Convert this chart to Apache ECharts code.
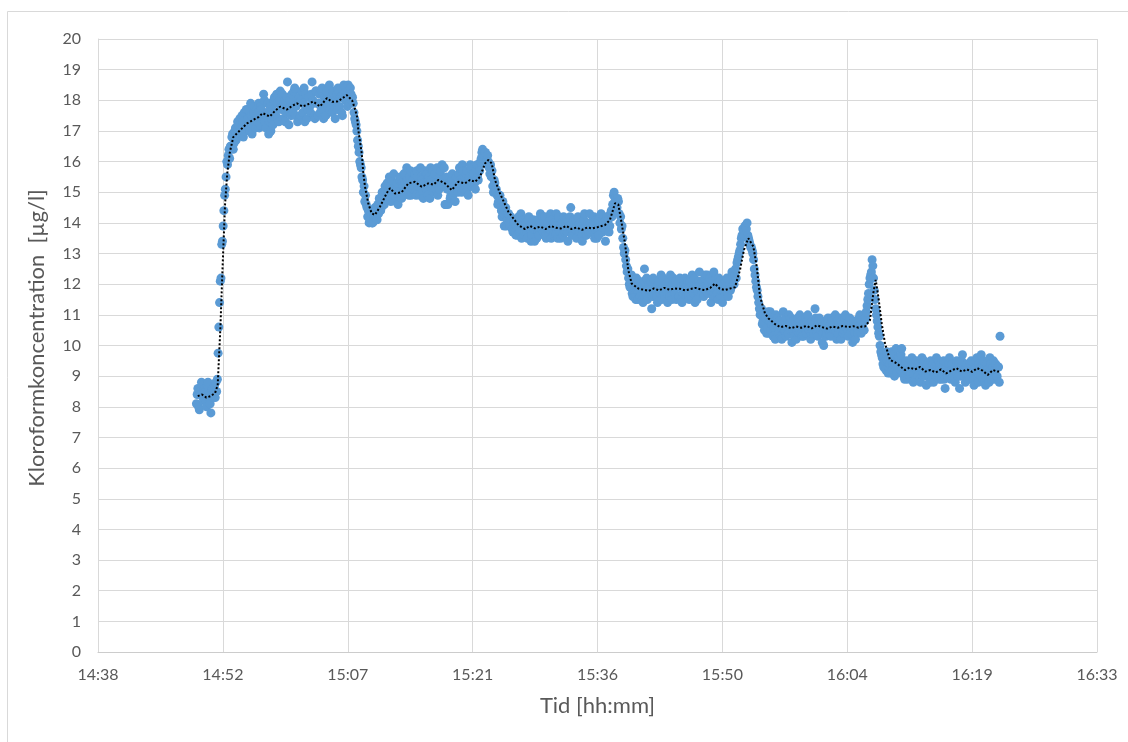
<!DOCTYPE html>
<html>
<head>
<meta charset="utf-8">
<script src="https://cdn.jsdelivr.net/npm/echarts@6/dist/echarts.min.js"></script>
<style>
html,body{margin:0;padding:0;background:#fff;}
#chart{width:1128px;height:742px;}
</style>
</head>
<body>
<div id="chart"></div>
<script>
// ---- axis setup (time in minutes after midnight; 14:38.4 .. 16:33.6, step 0.01 day) ----
const xMin = 878.4, xMax = 993.6, xStep = 14.4;
const xTickLabels = ['14:38','14:52','15:07','15:21','15:36','15:50','16:04','16:19','16:33'];
const yMin = 0, yMax = 20, yStep = 1;
const xAxisTitle = 'Tid [hh:mm]';
const yAxisTitle = 'Kloroformkoncentration  [µg/l]';

// ---- measurements: one reading every 5 s, starting 14:49:45 (889.75 min); one row = 1 minute ----
const sampleStartMin = 889.75;
const sampleStepMin = 5 / 60;
const concentration = [
  8.1, 8.4, 8.6, 8.0, 7.9, 8.5, 8.4, 8.8, 8.7, 8.3, 8.2, 8.6,
  8.5, 8.2, 8.0, 8.7, 8.8, 8.4, 8.3, 8.1, 7.8, 8.5, 8.6, 8.3,
  8.4, 8.7, 8.3, 8.8, 8.5, 8.9, 9.75, 10.6, 11.4, 12.1, 12.2, 13.3,
  13.4, 13.9, 14.4, 14.9, 15.1, 15.5, 16.0, 15.9, 16.2, 16.4, 16.1, 16.5,
  16.5, 16.8, 16.9, 16.4, 16.6, 17.0, 17.1, 16.7, 16.8, 17.3, 17.2, 16.9,
  17.4, 17.0, 16.9, 17.5, 17.3, 16.8, 17.6, 17.2, 17.0, 17.7, 17.2, 17.4,
  17.7, 17.3, 17.0, 17.9, 17.5, 16.9, 17.2, 17.6, 17.8, 17.4, 17.1, 17.7,
  17.3, 17.6, 17.9, 17.1, 17.2, 17.8, 17.7, 17.5, 17.4, 18.2, 18.0, 17.3,
  17.1, 17.5, 17.6, 17.9, 16.9, 17.3, 17.8, 17.0, 17.4, 17.7, 17.2, 18.0,
  18.1, 17.6, 17.5, 18.2, 17.9, 17.4, 17.3, 18.0, 18.3, 17.8, 17.7, 18.2,
  17.4, 17.9, 18.0, 17.3, 17.6, 18.1, 18.6, 17.7, 17.2, 18.0, 17.8, 17.5,
  18.2, 17.7, 17.6, 18.3, 18.4, 17.5, 17.8, 18.0, 17.3, 17.9, 18.1, 17.4,
  17.5, 18.0, 18.3, 17.6, 17.9, 18.4, 17.3, 17.8, 18.2, 17.4, 17.7, 18.1,
  18.1, 17.8, 17.6, 18.2, 18.6, 18.0, 17.9, 17.5, 17.4, 18.3, 18.3, 17.9,
  17.5, 17.9, 18.2, 17.6, 17.8, 18.3, 18.4, 17.7, 17.4, 18.1, 18.0, 17.5,
  18.3, 17.9, 17.8, 18.4, 18.5, 17.7, 18.0, 18.1, 17.6, 18.3, 18.2, 17.8,
  17.4, 18.0, 18.2, 17.7, 18.4, 18.3, 17.8, 18.1, 18.1, 17.6, 17.5, 18.2,
  18.5, 18.1, 18.0, 18.4, 18.3, 17.8, 18.5, 18.2, 17.9, 18.4, 18.2, 18.0,
  18.1, 17.9, 17.6, 17.4, 17.3, 17.2, 17.0, 16.7, 16.5, 16.3, 16.0, 15.9,
  15.8, 15.5, 15.4, 15.0, 15.2, 14.7, 14.9, 14.6, 14.5, 14.2, 14.4, 14.0,
  14.1, 14.4, 14.3, 14.0, 14.0, 14.3, 14.2, 14.5, 14.4, 14.2, 14.1, 14.6,
  14.3, 14.8, 14.7, 14.4, 14.5, 15.0, 14.9, 14.6, 14.6, 15.2, 15.0, 14.8,
  15.3, 15.0, 14.8, 15.5, 15.2, 14.7, 15.4, 15.1, 14.9, 15.6, 15.1, 14.9,
  14.7, 15.1, 15.3, 14.6, 15.0, 15.4, 15.5, 14.9, 14.8, 15.3, 15.2, 15.6,
  15.6, 15.3, 15.0, 15.8, 15.4, 15.1, 14.9, 15.5, 15.7, 14.9, 15.2, 15.4,
  15.1, 15.4, 15.6, 15.0, 14.9, 15.7, 15.5, 15.2, 15.3, 14.9, 15.8, 15.5,
  15.4, 15.0, 14.8, 15.3, 15.7, 15.2, 15.1, 15.6, 14.9, 15.4, 15.5, 14.8,
  15.8, 15.4, 15.2, 15.7, 15.0, 15.5, 15.6, 15.1, 15.3, 15.8, 14.9, 15.3,
  15.1, 15.5, 15.7, 15.3, 15.9, 15.4, 15.2, 15.8, 14.6, 14.6, 15.5, 15.1,
  14.6, 15.1, 15.3, 14.8, 14.9, 15.4, 15.6, 14.9, 15.0, 15.2, 14.7, 15.5,
  15.5, 15.2, 15.0, 15.6, 15.8, 15.4, 15.3, 15.0, 15.9, 15.7, 15.1, 15.5,
  15.2, 15.6, 15.7, 15.1, 14.9, 15.4, 15.5, 15.9, 15.8, 15.2, 15.3, 15.6,
  15.6, 15.3, 15.1, 15.7, 15.9, 15.5, 15.4, 15.9, 15.7, 16.0, 16.1, 16.3,
  16.4, 16.1, 16.2, 16.3, 16.3, 16.0, 15.9, 16.2, 16.0, 15.8, 15.6, 15.9,
  15.5, 15.7, 15.2, 15.0, 15.4, 15.3, 15.0, 15.1, 14.9, 14.6, 14.7, 14.9,
  14.9, 14.6, 14.4, 14.2, 14.7, 14.3, 13.9, 14.4, 14.5, 13.9, 14.1, 14.3,
  14.3, 14.0, 13.9, 14.2, 14.1, 13.8, 13.7, 14.1, 14.0, 13.7, 13.6, 13.9,
  13.6, 14.0, 14.2, 13.7, 13.8, 14.3, 13.5, 13.9, 14.1, 13.6, 13.7, 14.1,
  14.0, 13.7, 13.5, 14.1, 14.2, 13.9, 13.8, 13.4, 13.6, 14.0, 14.1, 13.8,
  13.4, 13.8, 13.9, 13.5, 14.1, 13.7, 13.6, 14.0, 14.3, 13.9, 13.8, 14.2,
  13.7, 14.0, 14.2, 13.6, 13.5, 13.9, 14.0, 13.7, 13.8, 14.1, 14.3, 13.5,
  14.1, 13.8, 13.6, 14.0, 13.9, 13.6, 14.3, 13.9, 13.5, 14.2, 13.8, 13.7,
  13.5, 13.9, 14.0, 13.6, 14.2, 13.8, 13.7, 14.0, 14.1, 13.7, 13.4, 13.9,
  13.9, 14.2, 14.5, 13.8, 13.6, 14.0, 14.1, 13.7, 13.8, 14.1, 13.5, 13.9,
  14.2, 13.9, 13.7, 14.0, 13.9, 13.6, 13.4, 13.8, 14.1, 14.3, 13.8, 13.6,
  13.6, 13.9, 14.0, 13.7, 14.3, 14.0, 13.7, 13.8, 13.9, 14.1, 14.2, 13.5,
  13.8, 14.1, 13.5, 13.8, 14.1, 13.6, 13.9, 14.2, 14.3, 13.9, 13.7, 14.0,
  14.0, 13.8, 13.4, 14.1, 14.2, 13.9, 14.1, 13.7, 13.9, 14.3, 14.4, 14.2,
  14.6, 14.9, 15.0, 14.7, 14.8, 14.4, 14.5, 14.8, 14.7, 14.3, 14.0, 14.2,
  13.8, 13.9, 13.5, 13.2, 13.0, 13.1, 12.8, 12.6, 12.4, 12.5, 12.2, 12.0,
  11.9, 12.1, 12.3, 11.7, 11.6, 11.9, 12.0, 11.6, 11.5, 12.2, 11.8, 11.5,
  12.1, 11.8, 11.6, 12.0, 11.9, 11.5, 11.4, 12.1, 12.5, 11.9, 11.7, 12.2,
  11.5, 11.9, 12.0, 11.7, 11.8, 12.1, 11.2, 11.6, 12.2, 11.8, 11.6, 12.0,
  11.9, 11.6, 11.4, 12.0, 12.1, 11.8, 11.7, 12.3, 11.5, 11.9, 12.2, 11.7,
  11.6, 11.9, 12.0, 11.7, 11.4, 12.1, 11.8, 11.6, 12.3, 11.9, 11.5, 12.0,
  12.2, 11.8, 11.7, 12.1, 11.5, 11.9, 12.0, 11.6, 11.6, 12.2, 11.9, 11.5,
  11.4, 11.7, 11.8, 12.0, 12.2, 11.9, 11.6, 11.8, 12.1, 11.6, 11.5, 12.1,
  11.9, 11.6, 12.3, 12.0, 11.7, 12.2, 11.4, 11.8, 12.0, 11.5, 11.8, 12.1,
  12.4, 12.0, 11.8, 11.7, 12.1, 11.9, 11.6, 12.2, 12.3, 11.8, 11.9, 12.3,
  11.7, 12.0, 12.2, 11.8, 11.4, 12.1, 11.9, 11.6, 12.4, 11.9, 11.6, 12.2,
  11.9, 11.7, 11.5, 12.2, 12.1, 11.6, 11.8, 12.0, 11.4, 11.8, 12.0, 11.6,
  11.8, 12.1, 12.2, 11.7, 11.6, 12.2, 12.0, 11.8, 11.9, 12.4, 12.3, 12.0,
  12.0, 12.3, 12.5, 12.2, 12.7, 12.8, 12.9, 13.0, 13.1, 13.3, 13.5, 13.6,
  13.8, 13.7, 13.6, 13.9, 13.9, 13.8, 14.0, 13.6, 13.5, 13.4, 13.3, 13.2,
  13.2, 13.1, 13.0, 12.8, 12.5, 12.3, 12.1, 11.9, 11.8, 11.6, 11.4, 11.2,
  11.0, 11.1, 11.2, 10.7, 10.8, 11.0, 10.5, 10.9, 10.9, 10.4, 10.6, 11.1,
  10.4, 10.8, 11.1, 10.5, 10.7, 10.9, 10.3, 10.6, 10.8, 10.2, 11.0, 10.7,
  10.9, 10.6, 10.4, 10.8, 10.6, 10.3, 10.2, 10.7, 11.1, 10.5, 10.5, 10.9,
  10.3, 10.6, 10.7, 10.4, 11.0, 10.7, 10.5, 10.9, 10.1, 10.5, 10.8, 10.3,
  10.6, 10.8, 10.2, 10.5, 10.9, 10.6, 10.4, 11.0, 10.8, 10.4, 10.3, 10.7,
  10.3, 10.6, 10.7, 10.9, 10.4, 10.8, 11.0, 10.5, 10.5, 10.7, 10.2, 10.4,
  10.8, 10.5, 10.4, 10.7, 11.2, 10.9, 10.6, 10.4, 10.3, 10.8, 10.9, 10.6,
  10.5, 10.8, 10.1, 10.4, 10.0, 10.6, 10.7, 10.3, 10.4, 10.7, 10.9, 10.5,
  10.6, 10.4, 10.3, 10.9, 10.8, 10.6, 10.5, 10.7, 11.0, 10.5, 10.2, 10.8,
  10.4, 10.7, 10.9, 10.5, 10.2, 10.8, 10.7, 10.4, 10.5, 10.9, 11.0, 10.6,
  10.7, 10.5, 10.3, 10.8, 10.9, 10.4, 10.6, 10.7, 10.1, 10.6, 10.8, 10.4,
  10.2, 10.6, 10.8, 10.4, 10.5, 10.9, 11.0, 10.7, 10.4, 10.8, 10.6, 10.5,
  10.5, 10.8, 10.9, 11.1, 11.3, 11.5, 11.7, 12.0, 12.2, 12.3, 12.4, 12.8,
  12.6, 12.2, 11.8, 11.5, 11.2, 11.0, 10.8, 10.6, 10.4, 10.3, 10.0, 9.8,
  9.7, 9.6, 9.4, 9.3, 9.6, 9.5, 9.2, 9.8, 9.5, 9.1, 9.3, 9.4,
  9.1, 9.5, 9.8, 9.2, 9.4, 9.7, 9.0, 9.4, 9.9, 9.1, 9.3, 9.6,
  9.6, 9.3, 9.2, 9.7, 9.9, 9.1, 9.4, 9.0, 8.9, 9.4, 9.5, 9.2,
  8.9, 9.2, 9.4, 9.0, 9.1, 9.5, 9.6, 9.1, 8.8, 9.4, 9.3, 8.9,
  9.5, 9.2, 9.0, 9.4, 9.3, 8.9, 8.8, 9.3, 9.6, 9.0, 9.1, 9.5,
  9.2, 9.0, 8.7, 9.3, 9.4, 9.1, 9.0, 8.8, 9.5, 9.2, 8.9, 9.4,
  8.8, 9.1, 9.3, 9.0, 9.6, 9.2, 9.1, 9.5, 8.9, 9.3, 9.4, 8.9,
  9.1, 9.3, 9.5, 8.9, 8.6, 9.2, 9.3, 9.0, 9.0, 9.4, 9.6, 9.1,
  8.9, 9.2, 9.4, 9.0, 9.2, 8.9, 8.8, 9.3, 9.5, 9.1, 9.0, 9.4,
  8.6, 9.0, 9.3, 9.5, 9.7, 9.2, 9.0, 9.1, 8.8, 9.3, 9.4, 8.9,
  9.2, 9.0, 8.9, 9.4, 9.5, 9.1, 9.1, 8.9, 8.7, 9.2, 9.3, 9.5,
  9.6, 9.1, 8.8, 9.4, 9.3, 9.0, 9.7, 9.3, 8.9, 9.5, 9.2, 8.8,
  8.7, 9.0, 9.4, 9.2, 9.1, 8.8, 9.6, 9.4, 8.9, 9.1, 9.3, 9.5,
  8.9, 9.2, 9.4, 9.0, 9.0, 9.3, 9.3, 8.8, 10.3
];

// ---- moving-average trendline: [minutes, value] ----
const trendPoints = [
  [889.9, 8.35], [890.4, 8.4], [890.9, 8.3], [891.4, 8.35], [891.9, 8.45], [892.2, 8.7],
  [892.5, 10.5], [892.8, 12.8], [893.05, 14.6], [893.3, 15.6], [893.6, 16.3], [894.0, 16.8],
  [894.7, 17.0], [895.6, 17.25], [896.3, 17.36], [896.9, 17.45], [897.4, 17.58], [898.2, 17.47],
  [898.8, 17.65], [899.4, 17.79], [900.2, 17.7], [900.8, 17.82], [901.35, 17.9], [902.0, 17.8],
  [902.5, 17.85], [903.2, 17.96], [904.0, 17.8], [904.8, 18.07], [905.4, 17.95], [906.0, 17.96],
  [906.5, 18.05], [907.1, 18.17], [907.7, 18.0], [908.0, 17.75], [908.27, 17.47], [908.42, 17.03],
  [908.81, 16.27], [909.0, 15.62], [909.19, 15.18], [909.57, 14.63], [909.96, 14.31], [910.34, 14.26],
  [910.92, 14.53], [911.69, 14.97], [912.07, 15.13], [912.65, 14.96], [913.42, 15.0], [914.18, 15.29],
  [914.95, 15.34], [915.73, 15.18], [916.49, 15.29], [917.1, 15.25], [917.64, 15.4], [918.41, 15.29],
  [919.19, 15.07], [919.95, 15.34], [920.72, 15.29], [921.3, 15.4], [921.87, 15.34], [922.45, 15.5],
  [923.03, 15.94], [923.41, 16.05], [923.8, 15.94], [924.18, 15.4], [924.76, 14.96], [925.71, 14.37],
  [926.87, 13.93], [927.64, 13.8], [928.2, 13.9], [928.79, 13.82], [929.4, 13.88], [930.0, 13.8],
  [930.6, 13.9], [931.2, 13.84], [931.8, 13.82], [932.4, 13.9], [933.0, 13.8], [933.6, 13.85],
  [934.2, 13.77], [934.8, 13.85], [935.4, 13.82], [936.0, 13.86], [936.86, 13.93], [937.44, 14.1],
  [938.02, 14.64], [938.4, 14.6], [938.79, 13.98], [939.17, 13.33], [939.55, 12.46], [939.94, 12.02],
  [940.7, 11.86], [941.3, 11.82], [941.9, 11.78], [942.5, 11.86], [943.1, 11.8], [943.7, 11.88],
  [944.3, 11.82], [944.9, 11.86], [945.5, 11.85], [946.1, 11.8], [946.7, 11.84], [947.3, 11.88],
  [947.9, 11.83], [948.4, 11.81], [949.0, 11.88], [949.55, 12.02], [950.1, 11.85], [950.7, 11.81],
  [951.3, 11.86], [951.85, 11.9], [952.43, 12.46], [952.89, 13.12], [953.39, 13.5], [953.97, 13.23],
  [954.36, 12.58], [954.74, 11.6], [955.31, 11.05], [955.69, 10.89], [956.47, 10.7], [957.1, 10.6],
  [957.7, 10.64], [958.3, 10.56], [958.9, 10.62], [959.5, 10.58], [960.1, 10.64], [960.7, 10.56],
  [961.3, 10.66], [961.9, 10.6], [962.5, 10.55], [963.1, 10.62], [963.7, 10.58], [964.3, 10.64],
  [964.9, 10.6], [965.5, 10.63], [966.1, 10.58], [966.5, 10.62], [966.85, 10.62], [967.42, 10.83],
  [967.8, 11.7], [968.08, 12.14], [968.38, 11.6], [968.77, 10.73], [969.15, 10.07], [969.73, 9.53],
  [970.5, 9.42], [971.0, 9.3], [971.46, 9.2], [972.0, 9.28], [972.6, 9.22], [973.2, 9.3],
  [973.8, 9.15], [974.4, 9.2], [975.0, 9.12], [975.6, 9.22], [976.2, 9.09], [976.8, 9.18],
  [977.4, 9.26], [978.0, 9.15], [978.6, 9.22], [979.2, 9.14], [979.8, 9.26], [980.4, 9.18],
  [981.0, 9.04], [981.6, 9.2], [982.1, 9.15], [982.4, 9.15]
];

const scatterData = concentration.map((v, i) => [sampleStartMin + i * sampleStepMin, v]);

const labelFont = 'Lato, "Open Sans", sans-serif';
const grey = '#595959';
const gridGrey = '#d9d9d9';

const chart = echarts.init(document.getElementById('chart'), null, {renderer: 'canvas'});
chart.setOption({
  animation: false,
  backgroundColor: '#ffffff',
  grid: {left: 98, right: 31, top: 39, bottom: 90, containLabel: false},
  xAxis: {
    type: 'value', min: xMin, max: xMax, interval: xStep,
    name: xAxisTitle, nameLocation: 'middle', nameGap: 43,
    nameTextStyle: {color: grey, fontSize: 22, fontFamily: labelFont},
    axisLine: {show: true, lineStyle: {color: '#cccccc', width: 1}},
    axisTick: {show: false},
    splitLine: {show: true, lineStyle: {color: gridGrey, width: 1}},
    axisLabel: {
      color: grey, fontSize: 16, fontFamily: labelFont, margin: 15,
      formatter: function (v) {
        const i = Math.round((v - xMin) / xStep);
        return xTickLabels[i] !== undefined ? xTickLabels[i] : '';
      }
    }
  },
  yAxis: {
    type: 'value', min: yMin, max: yMax, interval: yStep,
    axisLine: {show: true, lineStyle: {color: gridGrey, width: 1}},
    axisTick: {show: false},
    splitLine: {show: true, lineStyle: {color: gridGrey, width: 1}},
    axisLabel: {color: grey, fontSize: 16, fontFamily: labelFont, margin: 17}
  },
  graphic: [
    {type: 'rect', silent: true, z: -10,
      shape: {x: 7.5, y: 11.5, width: 1200, height: 800},
      style: {fill: 'none', stroke: '#d9d9d9', lineWidth: 1}},
    {type: 'text', silent: true, x: 37, y: 338, rotation: Math.PI / 2,
      style: {text: yAxisTitle, fill: grey, font: '22px ' + labelFont, align: 'center', verticalAlign: 'middle'}}
  ],
  series: [
    {
      type: 'scatter', name: 'Kloroform',
      data: scatterData, symbol: 'circle', symbolSize: 9,
      itemStyle: {color: '#5B9BD5', opacity: 1},
      z: 2
    },
    {
      type: 'line', name: 'Glidande medelvärde',
      data: trendPoints, showSymbol: false, symbol: 'none', smooth: false,
      lineStyle: {color: '#000000', width: 2, type: [2, 2]},
      z: 3
    }
  ]
});
</script>
</body>
</html>
